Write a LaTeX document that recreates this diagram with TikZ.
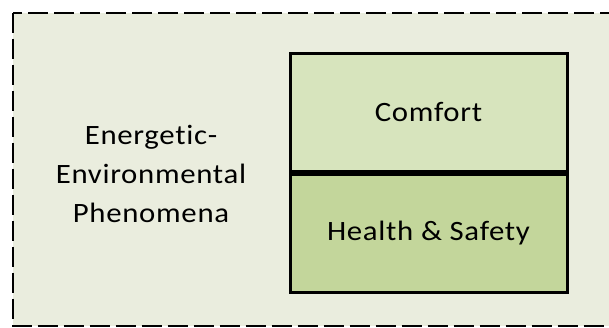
\documentclass[tikz,border=0pt]{standalone}
\usepackage{fontspec}
\setmainfont{Carlito}[FakeStretch=1.1, LetterSpace=2.5, Ligatures={NoCommon}]
\definecolor{bgfill}{HTML}{EAEDDE}
\definecolor{comfortfill}{HTML}{D7E4BD}
\definecolor{healthfill}{HTML}{C3D69B}
\tikzset{
  levelbox/.style={draw=black, line width=3pt, minimum width=277pt, minimum height=118pt, inner sep=0pt, font=\fontsize{28}{39}\selectfont},
  labeltext/.style={align=center, font=\fontsize{28}{39}\selectfont, inner sep=0pt},
}
\begin{document}
\begin{tikzpicture}[x=1pt,y=1pt]
\useasboundingbox (0,0) rectangle (609,-327);
\clip (0,0) rectangle (609,-327);
\draw[fill=bgfill, line width=2pt, dash pattern=on 20pt off 6pt] (12.5,-12.5) -- (12.5,-325.5) -- (640,-325.5) -- (640,-12.5) -- cycle;
\node[levelbox, fill=comfortfill, anchor=north west] (comfort) at (288.5,-51.5) {Comfort};
\node[levelbox, fill=healthfill, anchor=north] (health) at (comfort.south) {Health \& Safety};
\node[labeltext] (phen) at (151,-174) {Energetic-\\Environmental\\Phenomena};
\end{tikzpicture}
\end{document}
